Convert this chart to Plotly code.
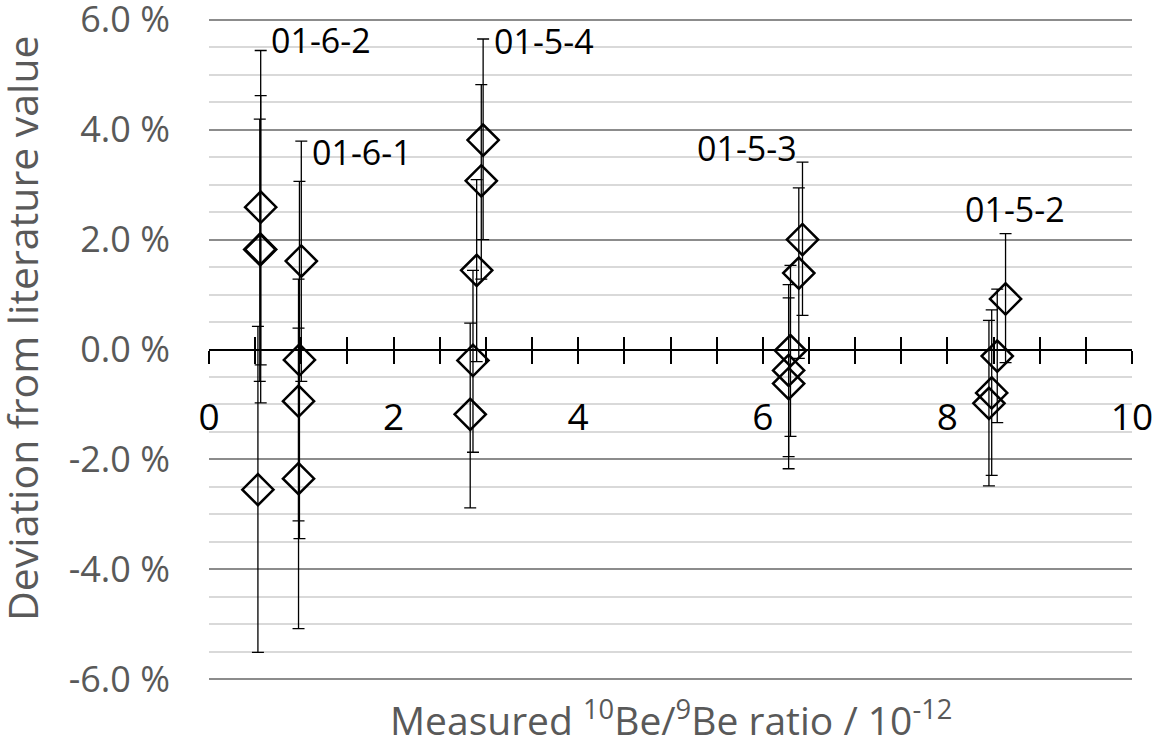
import plotly.graph_objects as go

# ---- data (percent deviation) ----
ratio_x = [0.56, 0.56, 0.55, 0.53,
           1.00, 0.98, 0.97, 0.97,
           2.97, 2.95, 2.90, 2.86, 2.83,
           6.43, 6.39, 6.30, 6.28, 6.28,
           8.63, 8.54, 8.48, 8.45]
deviation = [2.59, 1.82, 1.82, -2.55,
             1.61, -0.19, -0.94, -2.35,
             3.81, 3.07, 1.44, -0.20, -1.18,
             2.00, 1.39, -0.02, -0.38, -0.62,
             0.92, -0.12, -0.79, -0.98]
err_plus = [2.85, 2.80, 2.37, 2.97,
            2.18, 3.25, 2.22, 2.74,
            1.84, 1.75, 1.65, 1.64, 1.66,
            1.41, 1.55, 1.55, 1.56, 1.56,
            1.19, 1.22, 1.51, 1.51]
err_minus = [2.87, 2.79, 2.40, 2.96,
             2.19, 3.25, 2.18, 2.73,
             1.81, 1.79, 1.66, 1.67, 1.70,
             1.38, 1.55, 1.56, 1.57, 1.55,
             1.16, 1.21, 1.50, 1.50]

sample_labels = ["01-6-2", "01-6-1", "01-5-4", "01-5-3", "01-5-2"]
label_x = [0.65, 1.09, 3.07, 5.83, 8.73]
label_y = [5.64, 3.60, 5.62, 3.67, 2.56]
label_anchor = ["left", "left", "left", "center", "center"]

y_tickvals = [-6, -4, -2, 0, 2, 4, 6]
y_ticktext = ["-6.0 %", "-4.0 %", "-2.0 %", "0.0 %", "2.0 %", "4.0 %", "6.0 %"]

FONT = "Open Sans"
GRAY = "#595959"

fig = go.Figure()
fig.add_trace(go.Scatter(
    x=ratio_x, y=deviation, mode="markers",
    marker=dict(symbol="diamond-open", size=24, color="black",
                line=dict(width=2.5, color="black")),
    error_y=dict(type="data", symmetric=False, array=err_plus,
                 arrayminus=err_minus, color="black", thickness=1.3, width=6),
    showlegend=False, hoverinfo="skip",
))
# helper trace for the second (overlay) x axis, used for crossing tick marks
fig.add_trace(go.Scatter(x=[0, 10], y=[0, 0], xaxis="x2", mode="lines",
                         line=dict(width=0), showlegend=False, hoverinfo="skip"))

for t, lx, ly, anc in zip(sample_labels, label_x, label_y, label_anchor):
    fig.add_annotation(x=lx, y=ly, text=t, showarrow=False, xanchor=anc,
                       yanchor="middle", font=dict(family=FONT, size=34, color="black"))

fig.add_annotation(xref="paper", yref="paper", x=0.5, y=-0.054,
                   text="Measured <sup>10</sup>Be/<sup>9</sup>Be ratio / 10<sup>-12</sup>",
                   showarrow=False, xanchor="center", yanchor="middle",
                   font=dict(family=FONT, size=39, color=GRAY))
fig.add_annotation(xref="paper", yref="paper", x=-0.2026, y=0.531,
                   text="Deviation from literature value", textangle=-90,
                   showarrow=False, xanchor="center", yanchor="middle",
                   font=dict(family=FONT, size=41, color=GRAY))

tick_common = dict(ticklen=13, tickwidth=2, tickcolor="black")
fig.update_layout(
    width=1156, height=736,
    margin=dict(l=209, r=24, t=17, b=54, autoexpand=False),
    paper_bgcolor="white", plot_bgcolor="white",
    font=dict(family=FONT),
    xaxis=dict(range=[0, 10], anchor="free", position=0.5, automargin=False,
               showline=True, linecolor="black", linewidth=2,
               ticks="outside", tickmode="linear", tick0=0, dtick=2,
               minor=dict(tick0=0, dtick=0.5, ticks="outside", **tick_common),
               showgrid=False, zeroline=False, ticklabeloverflow="allow",
               tickfont=dict(family=FONT, size=37, color="black"),
               ticklabelstandoff=22, **tick_common),
    xaxis2=dict(range=[0, 10], overlaying="x", anchor="free", position=0.5,
                automargin=False, side="bottom", showline=False, ticks="inside",
                tickmode="linear", tick0=0, dtick=2,
                minor=dict(tick0=0, dtick=0.5, ticks="inside", **tick_common),
                showticklabels=False, showgrid=False, zeroline=False,
                **tick_common),
    yaxis=dict(range=[-6.05, 6.05], tickmode="array", tickvals=y_tickvals,
               ticktext=y_ticktext, showline=False, ticks="", zeroline=False,
               automargin=False, ticklabeloverflow="allow",
               showgrid=True, gridcolor="#8c8c8c", gridwidth=2,
               minor=dict(tickmode="linear", tick0=0, dtick=0.5, showgrid=True,
                          gridcolor="#d9d9d9", gridwidth=2, ticks=""),
               tickfont=dict(family=FONT, size=36, color=GRAY),
               ticklabelstandoff=38),
)

fig.write_html("out.html", config={"displayModeBar": False},
               post_script="document.body.style.margin='0';document.body.style.overflow='hidden';")
